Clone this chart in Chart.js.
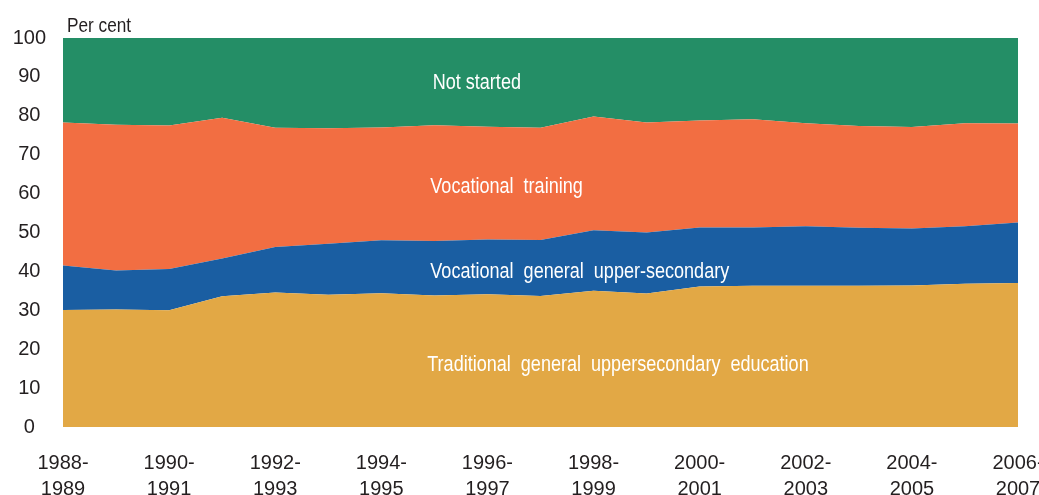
<!DOCTYPE html>
<html>
<head>
<meta charset="utf-8">
<script src="https://cdn.jsdelivr.net/npm/chart.js@4"></script>
<style>
  html, body { margin: 0; padding: 0; background: #fff; }
  #wrap { width: 1039px; height: 495px; position: relative; }
</style>
</head>
<body>
<div id="wrap"><canvas id="graf-areas"></canvas></div>
<script>
const years = ["1988-1989", "1989-1990", "1990-1991", "1991-1992", "1992-1993", "1993-1994",
    "1994-1995", "1995-1996", "1996-1997", "1997-1998", "1998-1999", "1999-2000", "2000-2001",
    "2001-2002", "2002-2003", "2003-2004", "2004-2005", "2005-2006", "2006-2007"]
const traditional = [30.1, 30.2, 30.0, 33.6, 34.6, 34.0, 34.4, 33.8, 34.1, 33.7, 35.0, 34.3, 36.1, 36.3, 36.3, 36.3, 36.4, 36.8, 37.0]
const vocGeneral = [11.4, 10.0, 10.6, 9.7, 11.7, 13.1, 13.6, 14.0, 14.1, 14.4, 15.6, 15.7, 15.2, 15.0, 15.3, 14.9, 14.6, 14.8, 15.6]
const vocTraining = [36.8, 37.5, 36.9, 36.2, 30.6, 29.7, 29.0, 29.8, 29.0, 28.8, 29.2, 28.3, 27.5, 27.8, 26.5, 26.2, 26.1, 26.5, 25.4]
const notStarted = [21.7, 22.3, 22.5, 20.5, 23.1, 23.2, 23.0, 22.4, 22.8, 23.1, 20.2, 21.7, 21.2, 20.9, 21.9, 22.6, 22.9, 21.9, 22.0]
const seriesNames = ["Traditional  general  uppersecondary  education", "Vocational  general  upper-secondary",
    "Vocational  training", "Not started"]
const yTicks = [0, 10, 20, 30, 40, 50, 60, 70, 80, 90, 100]

const fuente = "'Liberation Sans', Arial, sans-serif"
const colores = ["#e2a845", "#1a5ea2", "#f26e42", "#248e66"]

// where the series names sit inside the areas (category index, value)
const posNombres = [[10.46, 14.3], [9.74, 38.4], [8.36, 60.2], [7.8, 86.9]]

// narrow text like the original condensed font
function textoEstrecho(ctx, t, x, y) {
    ctx.save()
    ctx.translate(x, y)
    ctx.scale(0.82, 1)
    ctx.fillText(t, 0, 0)
    ctx.restore()
}

const textos = {
    id: "textos",
    afterDatasetsDraw(chart) {
        const ctx = chart.ctx
        const x = chart.scales.x, y = chart.scales.y
        ctx.save()
        ctx.font = "22px " + fuente
        ctx.fillStyle = "#ffffff"
        ctx.textAlign = "center"
        ctx.textBaseline = "alphabetic"
        seriesNames.forEach((n, i) => {
            textoEstrecho(ctx, n, x.getPixelForValue(posNombres[i][0]), y.getPixelForValue(posNombres[i][1]))
        })
        ctx.fillStyle = "#231f20"
        ctx.textAlign = "left"
        ctx.font = "21px " + fuente
        textoEstrecho(ctx, "Per cent", chart.chartArea.left + 4, 32)
        ctx.restore()
    }
}

new Chart("graf-areas", {
    type: "line",
    data: {
        labels: years,
        datasets: [traditional, vocGeneral, vocTraining, notStarted].map((d, i) => ({
            label: seriesNames[i],
            data: d,
            backgroundColor: colores[i],
            borderWidth: 0,
            pointRadius: 0,
            tension: 0,
            fill: i === 0 ? "origin" : "-1"
        }))
    },
    options: {
        responsive: true,
        maintainAspectRatio: false,
        animation: false,
        layout: { padding: { top: 38, right: 21, bottom: 0, left: 0 } },
        plugins: { legend: { display: false }, tooltip: { enabled: false } },
        scales: {
            x: {
                offset: false,
                grid: { display: false, drawTicks: false },
                border: { display: false },
                ticks: {
                    autoSkip: false,
                    maxRotation: 0,
                    padding: 24,
                    color: "#231f20",
                    font: { family: fuente, size: 20, lineHeight: 1.27 },
                    callback: function (val, i) {
                        if (i % 2) return ""
                        const l = this.getLabelForValue(val)
                        return [l.slice(0, 5), l.slice(5)]
                    }
                },
                afterFit: s => { s.height = 68; s.paddingLeft = 0; s.paddingRight = 0 }
            },
            y: {
                stacked: true,
                min: 0,
                max: 100,
                grid: { display: false, drawTicks: false },
                border: { display: false },
                afterBuildTicks: s => { s.ticks = yTicks.map(v => ({ value: v })) },
                ticks: {
                    crossAlign: "center",
                    padding: 17,
                    color: "#231f20",
                    font: { family: fuente, size: 20 }
                },
                afterFit: s => { s.width = 63 }
            }
        }
    },
    plugins: [textos]
})
</script>
</body>
</html>
